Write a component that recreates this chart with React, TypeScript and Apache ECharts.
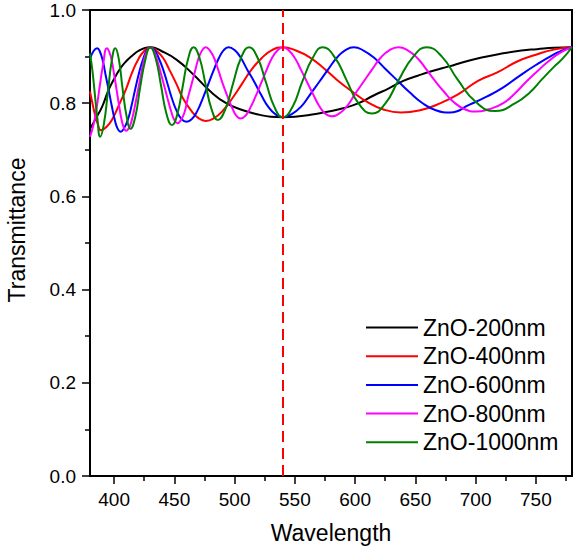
import React, { useEffect, useRef } from "react";
import * as echarts from "echarts";

const seriesNames = ["ZnO-200nm", "ZnO-400nm", "ZnO-600nm", "ZnO-800nm", "ZnO-1000nm"];
const seriesColors = ["#000000", "#ff0000", "#0000ff", "#ff00ff", "#008000"];

const xMajorTicks = [400, 450, 500, 550, 600, 650, 700, 750];
const xMinorTicks = [425, 475, 525, 575, 625, 675, 725, 775];
const markerWavelength = 540;

const zno200 = [
  [380, 0.745], [385, 0.768], [390, 0.792], [395, 0.826], [400, 0.852], [405, 0.874], [410, 0.89],
  [415, 0.902], [420, 0.912], [425, 0.918], [430, 0.92], [440, 0.911], [452, 0.893], [466, 0.861],
  [480, 0.825], [493, 0.8], [507, 0.785], [521, 0.775], [530, 0.771], [540, 0.77], [550, 0.771],
  [563, 0.775], [576, 0.781], [590, 0.789], [603, 0.8], [615, 0.816], [628, 0.832], [640, 0.848],
  [652, 0.859], [664, 0.869], [678, 0.879], [691, 0.889], [705, 0.898], [723, 0.907], [738, 0.913],
  [751, 0.916], [765, 0.919], [780, 0.92],
];

const zno400 = [
  [380, 0.825], [382, 0.8], [384, 0.777], [386.5, 0.755], [389, 0.742], [394, 0.75], [399, 0.768],
  [404, 0.796], [410, 0.831], [415, 0.866], [420, 0.894], [425, 0.912], [430, 0.92], [435, 0.913],
  [440.7, 0.897], [446, 0.871], [451.8, 0.841], [457, 0.811], [463.7, 0.785], [470, 0.768],
  [476, 0.762], [483, 0.768], [490.6, 0.785], [498, 0.81], [506, 0.841], [514, 0.872], [522.6, 0.897],
  [531, 0.914], [540, 0.92], [551, 0.913], [562, 0.899], [574, 0.875], [585, 0.85], [597, 0.826],
  [610, 0.803], [623, 0.787], [638, 0.78], [654, 0.785], [670, 0.799], [686, 0.82], [702, 0.848],
  [718, 0.866], [735, 0.89], [750, 0.904], [765, 0.915], [780, 0.92],
];

const zno600 = [
  [380, 0.895], [383, 0.912], [386, 0.918], [388, 0.912], [390.5, 0.892], [393, 0.86], [395.5, 0.828],
  [398, 0.795], [400.5, 0.765], [403, 0.745], [405.5, 0.739], [408, 0.745], [411.5, 0.765],
  [414.5, 0.795], [417.5, 0.83], [421, 0.868], [424, 0.894], [427, 0.913], [430, 0.92], [433.5, 0.914],
  [437, 0.897], [441, 0.87], [444.5, 0.84], [448, 0.81], [452, 0.783], [456, 0.766], [460, 0.76],
  [464.5, 0.766], [469, 0.783], [473.5, 0.81], [478, 0.84], [482.5, 0.87], [487, 0.897], [491, 0.914],
  [495, 0.92], [500, 0.914], [505, 0.898], [510.5, 0.872], [516.5, 0.845], [522, 0.818], [528, 0.792],
  [534, 0.776], [540, 0.77], [547, 0.776], [555, 0.792], [562.5, 0.818], [570, 0.845], [577.5, 0.872],
  [585, 0.898], [592, 0.914], [599, 0.92], [607, 0.913], [616, 0.897], [625, 0.874], [635, 0.849],
  [645, 0.824], [656, 0.8], [667, 0.785], [679, 0.78], [695, 0.797], [710, 0.815], [723, 0.834],
  [735, 0.856], [750, 0.882], [765, 0.905], [772, 0.913], [780, 0.92],
];

const zno800 = [
  [380, 0.728], [383, 0.755], [385.5, 0.79], [388, 0.835], [391, 0.885], [394, 0.918], [396, 0.91],
  [398, 0.892], [400, 0.862], [402, 0.83], [404, 0.797], [406, 0.767], [408, 0.748], [410, 0.741],
  [412.5, 0.748], [415, 0.767], [417.5, 0.797], [420, 0.83], [422.5, 0.864], [425, 0.894],
  [427.5, 0.913], [430, 0.92], [433, 0.912], [435.5, 0.895], [438.5, 0.867], [441.5, 0.838],
  [444.5, 0.809], [447.5, 0.781], [450, 0.764], [452.5, 0.757], [455.5, 0.764], [458.5, 0.781],
  [461, 0.809], [464, 0.838], [467, 0.867], [470, 0.896], [473, 0.913], [476, 0.92], [479.5, 0.913],
  [483, 0.897], [486.5, 0.871], [490, 0.843], [494, 0.815], [498, 0.79], [501.5, 0.773], [505, 0.767],
  [509, 0.773], [513, 0.79], [517.5, 0.815], [522, 0.843], [526.5, 0.871], [531, 0.897], [535.5, 0.913],
  [540, 0.92], [545, 0.913], [550, 0.897], [555, 0.872], [560, 0.846], [565, 0.82], [570, 0.795],
  [575, 0.778], [580, 0.772], [587, 0.778], [594, 0.796], [600, 0.82], [607, 0.846], [614, 0.872],
  [621, 0.897], [628, 0.913], [636, 0.92], [644, 0.913], [652, 0.896], [659, 0.873], [666, 0.849],
  [674, 0.824], [682, 0.802], [691, 0.787], [700, 0.782], [711, 0.787], [723, 0.8], [733, 0.822],
  [742, 0.846], [751, 0.868], [760, 0.889], [770, 0.908], [780, 0.92],
];

const zno1000 = [
  [380, 0.907], [382, 0.87], [384, 0.82], [386, 0.77], [388.5, 0.728], [391.5, 0.755], [394.8, 0.823],
  [398, 0.89], [401, 0.918], [404, 0.893], [407, 0.832], [410.5, 0.77], [413.5, 0.745], [417.5, 0.77],
  [421.5, 0.832], [426, 0.894], [430, 0.92], [434.5, 0.896], [439, 0.837], [443.5, 0.777], [448, 0.753],
  [452.5, 0.777], [457, 0.837], [461.5, 0.896], [466, 0.92], [470.9, 0.897], [475.8, 0.842],
  [480.9, 0.787], [486, 0.764], [492.3, 0.787], [498.7, 0.842], [505.3, 0.897], [512, 0.92],
  [519, 0.898], [526, 0.845], [533, 0.792], [540, 0.77], [548, 0.792], [556, 0.845], [565, 0.898],
  [573, 0.92], [583, 0.899], [593, 0.849], [603, 0.799], [614, 0.778], [625, 0.799], [636, 0.849],
  [648, 0.899], [659.5, 0.92], [672, 0.9], [685, 0.851], [700, 0.803], [716, 0.783], [733, 0.8],
  [745, 0.823], [755, 0.851], [765, 0.878], [772, 0.895], [780, 0.92],
];

const seriesData = [zno200, zno400, zno600, zno800, zno1000];

const FONT = "'Liberation Sans', Arial, sans-serif";

export default function App() {
  const ref = useRef<HTMLDivElement>(null);

  useEffect(() => {
    if (!ref.current) return;
    const chart = echarts.init(ref.current, undefined, { renderer: "svg" });
    const axisLineStyle = { color: "#000", width: 2 };
    const option: any = {
      animation: false,
      backgroundColor: "#ffffff",
      textStyle: { fontFamily: FONT },
      grid: {
        left: 90,
        top: 10,
        width: 482,
        height: 466,
        show: true,
        borderColor: "#000",
        borderWidth: 2,
        backgroundColor: "transparent",
        containLabel: false,
        outerBoundsMode: "none",
      },
      legend: {
        data: seriesNames,
        orient: "vertical",
        left: 365,
        top: 316,
        padding: 0,
        itemWidth: 52,
        itemHeight: 14,
        itemGap: 5.7,
        itemStyle: { opacity: 0, borderWidth: 0 },
        textStyle: { fontSize: 23, color: "#000", fontFamily: FONT },
        selectedMode: false,
      },
      xAxis: [
        {
          type: "value",
          min: 380,
          max: 780,
          position: "bottom",
          name: "Wavelength",
          nameLocation: "middle",
          nameGap: 45,
          nameTextStyle: { fontSize: 23, color: "#000", fontFamily: FONT },
          axisLine: { show: true, onZero: false, lineStyle: axisLineStyle },
          axisTick: { show: true, inside: false, length: 8, customValues: xMajorTicks, lineStyle: { color: "#000", width: 1.5 } },
          axisLabel: { show: true, margin: 14, fontSize: 19, color: "#000", fontFamily: FONT, customValues: xMajorTicks },
          splitLine: { show: false },
        },
        {
          type: "value",
          min: 380,
          max: 780,
          position: "bottom",
          offset: 0,
          axisLine: { show: false },
          axisTick: { show: true, inside: false, length: 5, customValues: xMinorTicks, lineStyle: { color: "#000", width: 1.5 } },
          axisLabel: { show: false },
          splitLine: { show: false },
        },
      ],
      yAxis: {
        type: "value",
        min: 0,
        max: 1,
        interval: 0.2,
        name: "Transmittance",
        nameLocation: "middle",
        nameGap: 62,
        nameTextStyle: { fontSize: 23, color: "#000", fontFamily: FONT, padding: [0, 0, 0, 26] },
        axisLine: { show: true, onZero: false, lineStyle: axisLineStyle },
        axisTick: { show: true, inside: false, length: 8, lineStyle: { color: "#000", width: 1.5 } },
        minorTick: { show: true, splitNumber: 2, length: 5, lineStyle: { color: "#000", width: 1.5 } },
        axisLabel: {
          margin: 14,
          fontSize: 19,
          color: "#000",
          fontFamily: FONT,
          formatter: (v: number) => v.toFixed(1),
        },
        splitLine: { show: false },
        minorSplitLine: { show: false },
      },
      series: [
        ...seriesNames.map((name, i) => ({
          name,
          type: "line",
          data: seriesData[i],
          smooth: true,
          symbol: "none",
          showSymbol: false,
          color: seriesColors[i],
          lineStyle: { color: seriesColors[i], width: 2 },
          z: 2 + i * 0.01,
        })),
        {
          name: "marker",
          type: "line",
          data: [],
          symbol: "none",
          z: 5,
          markLine: {
            silent: true,
            symbol: ["none", "none"],
            label: { show: false },
            lineStyle: { color: "#ff0000", type: [11, 6], width: 2 },
            data: [{ xAxis: markerWavelength }],
          },
        },
      ],
    };
    chart.setOption(option);
    return () => chart.dispose();
  }, []);

  return (
    <div
      ref={ref}
      style={{ position: "fixed", left: 0, top: 0, width: 575, height: 550, background: "#fff" }}
    />
  );
}
